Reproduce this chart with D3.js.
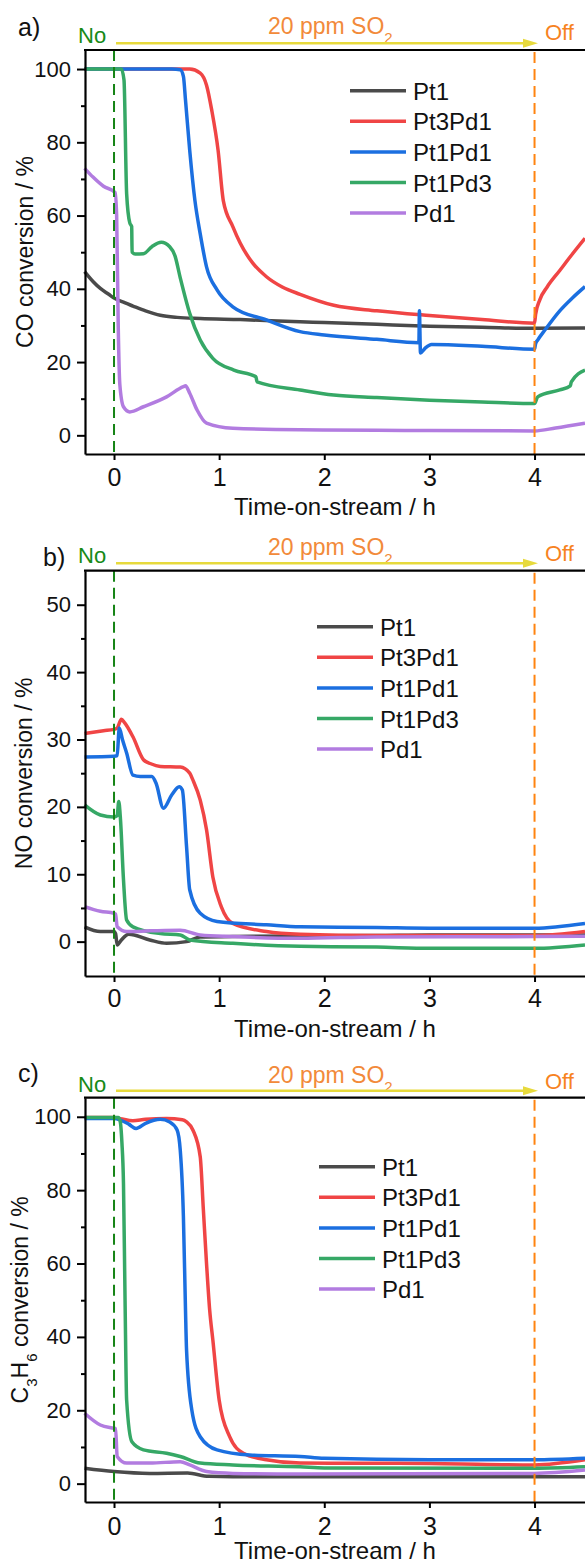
<!DOCTYPE html>
<html>
<head>
    <title>Conversion vs time-on-stream</title>
    <script src="https://d3js.org/d3.v7.min.js"></script>
    <style>
        body { margin: 0; background: #fff; }
        svg text { font-family: "Liberation Sans", Arial, Helvetica, sans-serif; fill: #111; }
    </style>
</head>
<body>
<script>
    // series names and colours
    const seriesNames = ["Pt1", "Pt3Pd1", "Pt1Pd1", "Pt1Pd3", "Pd1"];
    const seriesColors = ["#4a4a4a", "#f04545", "#1b6fe0", "#36a866", "#b27ce0"];

    const xTicks = [0, 1, 2, 3, 4];

    // a) CO conversion, [time h, %]
    const coPt1 = [[-0.28,44.7],[-0.2,42],[-0.13,40.1],[-0.05,38.5],[0,37.5],[0.1,36.2],[0.18,35.3],[0.3,34],[0.44,32.8],[0.6,32.2],[0.82,31.9],[1.2,31.6],[1.77,31],[2,30.8],[2.5,30.3],[3,29.8],[3.5,29.5],[4,29.2],[4.48,29.3]];
    const coPt3Pd1 = [[-0.28,100],[0.5,100],[0.72,100],[0.82,98.9],[0.88,95.6],[0.93,88.7],[0.99,77.8],[1.04,64],[1.13,57],[1.2,52.5],[1.32,47],[1.45,43.3],[1.6,40.5],[1.77,38.5],[2.09,35.5],[2.5,34],[3,32.7],[3.5,31.6],[4,30.6],[4.01,33],[4.05,37],[4.12,40.5],[4.24,45],[4.36,49.5],[4.48,53.8]];
    const coPt1Pd1 = [[-0.28,100],[0.55,100],[0.63,99.8],[0.66,98],[0.68,91.5],[0.72,77.8],[0.77,64],[0.82,55],[0.88,46],[0.98,39.7],[1.13,35.1],[1.45,31.5],[1.77,28.3],[2,27.4],[2.5,26.2],[2.9,25.3],[2.905,34],[2.915,22.5],[2.96,23.8],[3.02,24.8],[3.5,24.3],[4,23.5],[4.01,25],[4.03,26],[4.1,28.8],[4.24,34],[4.36,37.5],[4.48,40.6]];
    const coPt1Pd3 = [[-0.28,100],[0.07,100],[0.095,97],[0.12,66],[0.15,58],[0.168,57],[0.172,50],[0.2,49.5],[0.28,49.6],[0.36,51.5],[0.45,52.7],[0.53,51.5],[0.58,49],[0.63,43],[0.72,33.3],[0.82,26],[0.94,21],[1.14,17.8],[1.35,16],[1.36,14.6],[1.77,12.4],[2.09,11],[2.5,10.3],[3,9.6],[3.5,9.1],[4,8.7],[4.03,10.5],[4.24,12.4],[4.34,13.5],[4.35,14.6],[4.48,17.8]];
    const coPd1 = [[-0.28,72.9],[-0.2,70.5],[-0.1,68],[0.01,66.3],[0.025,60],[0.04,30],[0.055,14],[0.09,7.8],[0.15,6.4],[0.28,7.8],[0.5,10.5],[0.66,13.3],[0.68,13.5],[0.72,11.5],[0.79,6.9],[0.88,3.3],[1.13,1.9],[1.77,1.5],[2.5,1.4],[3,1.3],[4,1.2],[4.2,2],[4.48,3.3]];

    // b) NO conversion
    const noPt1 = [[-0.28,2.2],[-0.13,1.5],[0,1.5],[0.015,1.2],[0.03,-0.5],[0.07,0.25],[0.14,1.1],[0.34,0.25],[0.5,-0.25],[0.69,0],[0.82,0.7],[1.13,0.75],[1.77,0.85],[2.5,0.9],[3,1.0],[4,1.0],[4.48,1.0]];
    const noPt3Pd1 = [[-0.28,30.9],[-0.1,31.3],[0,31.5],[0.03,31.7],[0.07,33],[0.1,32.5],[0.18,30.4],[0.28,27],[0.35,26.4],[0.44,26],[0.63,25.9],[0.72,25],[0.75,24],[0.82,21],[0.88,16.6],[0.94,9.6],[1.02,5.2],[1.13,2.7],[1.45,1.5],[1.77,1.1],[2.5,0.9],[3,0.9],[4,0.9],[4.48,1.5]];
    const noPt1Pd1 = [[-0.28,27.4],[0,27.5],[0.03,27.6],[0.05,31.7],[0.08,30],[0.12,28],[0.18,24.7],[0.25,24.5],[0.36,24.5],[0.4,23.5],[0.47,19.8],[0.55,21.8],[0.62,23],[0.65,22.5],[0.69,14.1],[0.72,7.7],[0.82,4.2],[0.98,3.0],[1.45,2.5],[1.77,2.2],[2.5,2.1],[3,2.0],[4,2.0],[4.48,2.7]];
    const noPt1Pd3 = [[-0.28,20.3],[-0.13,18.8],[0,18.5],[0.03,18.7],[0.045,20.8],[0.06,18.5],[0.09,9.2],[0.12,3.2],[0.18,2.2],[0.44,1.2],[0.63,1.0],[0.72,0.25],[1.13,-0.25],[1.77,-0.7],[2.5,-0.8],[3,-1.0],[4,-1.0],[4.48,-0.5]];
    const noPd1 = [[-0.28,5.2],[-0.13,4.5],[0,4.2],[0.015,4.1],[0.03,2.2],[0.12,1.5],[0.34,1.6],[0.63,1.7],[0.82,1.0],[1.13,0.75],[1.77,0.5],[2.5,0.7],[4,0.75],[4.48,0.8]];

    // c) C3H6 conversion
    const hcPt1 = [[-0.28,4.2],[0,3.3],[0.34,2.8],[0.7,2.9],[0.9,2.0],[1.13,1.9],[1.77,1.9],[4,1.9],[4.48,1.9]];
    const hcPt3Pd1 = [[-0.28,99.8],[0,99.8],[0.06,99.5],[0.18,98.9],[0.3,99.3],[0.5,99.5],[0.65,99.2],[0.69,98.6],[0.75,96.4],[0.82,89.1],[0.85,74.6],[0.88,60],[0.91,47.3],[0.94,39.2],[1.0,22.8],[1.1,12.8],[1.23,8.3],[1.45,6.5],[1.77,5.6],[3,5.5],[4,5.1],[4.48,6.5]];
    const hcPt1Pd1 = [[-0.28,99.5],[0,99.5],[0.06,99.1],[0.14,98],[0.21,96.8],[0.3,98.2],[0.44,99.3],[0.53,98.6],[0.6,96.4],[0.63,90.9],[0.66,72.8],[0.68,47.3],[0.69,36.4],[0.74,20.1],[0.82,12.8],[0.98,9.2],[1.29,7.8],[1.77,7.4],[2,6.9],[3,6.5],[4,6.5],[4.48,6.9]];
    const hcPt1Pd3 = [[-0.28,99.8],[0.04,99.8],[0.057,99],[0.075,93],[0.09,81.8],[0.105,50],[0.12,22.8],[0.17,11.4],[0.28,9.2],[0.5,8.3],[0.63,7.4],[0.82,5.6],[1.13,5.1],[1.77,4.6],[2,4.3],[4,4.2],[4.48,4.6]];
    const hcPd1 = [[-0.28,19.2],[-0.13,16],[0,15.1],[0.015,15],[0.03,7.4],[0.12,5.6],[0.34,5.6],[0.63,6],[0.72,5.1],[0.88,3.3],[1.13,2.8],[1.77,2.6],[4,2.8],[4.48,3.7]];

    const coTicks = [0, 20, 40, 60, 80, 100], coMinor = [10, 30, 50, 70, 90];
    const noTicks = [0, 10, 20, 30, 40, 50], noMinor = [5, 15, 25, 35, 45];

    // panel layout (pixels)
    const panels = [
        { letter: "a)", lx: 18, ly: 36, top: 50, bottom: 454, ydom: [-5.1, 105.2], ticks: coTicks, minor: coMinor,
          title: [["CO conversion / %", null]], titleX: 33, tickPad: 8, xtY: 515,
          data: [coPt1, coPt3Pd1, coPt1Pd1, coPt1Pd3, coPd1], legX: 350, legY: 90.7,
          noY: 43, soY: 34, offY: 40, arrowY: 43.3 },
        { letter: "b)", lx: 43, ly: 566, top: 570.7, bottom: 976, ydom: [-5.1, 55.05], ticks: noTicks, minor: noMinor,
          title: [["NO conversion / %", null]], titleX: 32, tickPad: 7, xtY: 1036.5,
          data: [noPt1, noPt3Pd1, noPt1Pd1, noPt1Pd3, noPd1], legX: 317, legY: 626.7,
          noY: 563, soY: 555, offY: 561, arrowY: 563.3 },
        { letter: "c)", lx: 18, ly: 1082, top: 1097.7, bottom: 1502, ydom: [-5, 105.2], ticks: coTicks, minor: coMinor,
          title: [["C", null], ["3", "sub"], ["H", null], ["6", "sub"], [" conversion / %", null]], titleX: 28, tickPad: 9, xtY: 1559,
          data: [hcPt1, hcPt3Pd1, hcPt1Pd1, hcPt1Pd3, hcPd1], legX: 319, legY: 1166.7,
          noY: 1092, soY: 1082.7, offY: 1089, arrowY: 1090.7 }
    ];

    const width = 585, height = 1565;
    const svg = d3.select("body").append("svg")
        .attr("width", width)
        .attr("height", height);

    const x = d3.scaleLinear().domain([-0.276, 4.48]).range([85, 585]);

    panels.forEach(function(p) {
        const y = d3.scaleLinear().domain(p.ydom).range([p.bottom, p.top]);
        const g = svg.append("g");

        // data lines
        const line = d3.line()
            .x(d => x(d[0]))
            .y(d => y(d[1]))
            .curve(d3.curveMonotoneX);

        p.data.forEach(function(s, i) {
            g.append("path")
                .datum(s)
                .attr("d", line)
                .attr("fill", "none")
                .attr("stroke", seriesColors[i])
                .attr("stroke-width", 3.5)
                .attr("stroke-linejoin", "round");
        });

        // SO2 on / off markers
        g.append("line")
            .attr("x1", x(0)).attr("x2", x(0))
            .attr("y1", p.top).attr("y2", p.bottom)
            .attr("stroke", "#168416").attr("stroke-width", 2)
            .attr("stroke-dasharray", "11,6");
        g.append("line")
            .attr("x1", x(4)).attr("x2", x(4))
            .attr("y1", p.top + 2).attr("y2", p.bottom)
            .attr("stroke", "#ff8410").attr("stroke-width", 2)
            .attr("stroke-dasharray", "11,6");

        // axes
        const yAxis = g.append("g")
            .attr("transform", "translate(85,0)")
            .call(d3.axisLeft(y).tickValues(p.ticks).tickSize(8).tickPadding(6).tickSizeOuter(0));
        g.append("g")
            .attr("transform", "translate(85,0)")
            .call(d3.axisLeft(y).tickValues(p.minor).tickSize(4).tickFormat("").tickSizeOuter(0))
            .select(".domain").remove();

        const xAxis = g.append("g")
            .attr("transform", "translate(0," + p.bottom + ")")
            .call(d3.axisBottom(x).tickValues(xTicks).tickFormat(d3.format("d"))
                .tickSize(6).tickPadding(p.tickPad).tickSizeOuter(0));

        g.selectAll(".domain").attr("stroke", "#000").attr("stroke-width", 2.2);
        g.selectAll(".tick line").attr("stroke", "#000").attr("stroke-width", 2);
        yAxis.selectAll(".tick text").style("font-size", "22px").attr("fill", "#111");
        xAxis.selectAll(".tick text").style("font-size", "25px").attr("fill", "#111");

        // top frame
        g.append("line")
            .attr("x1", 84).attr("x2", 585)
            .attr("y1", p.top).attr("y2", p.top)
            .attr("stroke", "#000").attr("stroke-width", 2.2);

        // axis titles
        g.append("text")
            .attr("x", 335)
            .attr("y", p.xtY)
            .attr("text-anchor", "middle")
            .style("font-size", "24px")
            .text("Time-on-stream / h");

        const yt = g.append("text")
            .attr("transform", "translate(" + p.titleX + "," + ((p.top + p.bottom) / 2) + ") rotate(-90)")
            .attr("text-anchor", "middle")
            .style("font-size", "23px");
        p.title.forEach(function(part) {
            const ts = yt.append("tspan").text(part[0]);
            if (part[1] === "sub") ts.attr("baseline-shift", "sub").style("font-size", "15px");
        });

        // legend
        seriesNames.forEach(function(name, i) {
            const ly = p.legY + i * 30.6;
            g.append("line")
                .attr("x1", p.legX).attr("x2", p.legX + 56)
                .attr("y1", ly).attr("y2", ly)
                .attr("stroke", seriesColors[i]).attr("stroke-width", 3.5);
            g.append("text")
                .attr("x", p.legX + 63)
                .attr("y", ly + 9)
                .style("font-size", "24px")
                .text(name);
        });

        // panel letter and annotations
        g.append("text")
            .attr("x", p.lx).attr("y", p.ly)
            .style("font-size", "25px")
            .text(p.letter);

        g.append("text")
            .attr("x", 78).attr("y", p.noY)
            .style("font-size", "22px")
            .style("fill", "#178a17")
            .text("No");

        const so = g.append("text")
            .attr("x", 268).attr("y", p.soY)
            .style("font-size", "23px")
            .style("fill", "#f28a3a");
        so.append("tspan").text("20 ppm SO");
        so.append("tspan").attr("baseline-shift", "sub").style("font-size", "15px").text("2");

        g.append("text")
            .attr("x", 545).attr("y", p.offY)
            .style("font-size", "22px")
            .style("fill", "#f7831f")
            .text("Off");

        g.append("line")
            .attr("x1", 116).attr("x2", 526)
            .attr("y1", p.arrowY).attr("y2", p.arrowY)
            .attr("stroke", "#e7da3c").attr("stroke-width", 2.5);
        g.append("path")
            .attr("d", "M" + 523 + "," + (p.arrowY - 4.5) + "L538," + p.arrowY + "L523," + (p.arrowY + 4.5) + "Z")
            .attr("fill", "#e7da3c");
    });
</script>
</body>
</html>
